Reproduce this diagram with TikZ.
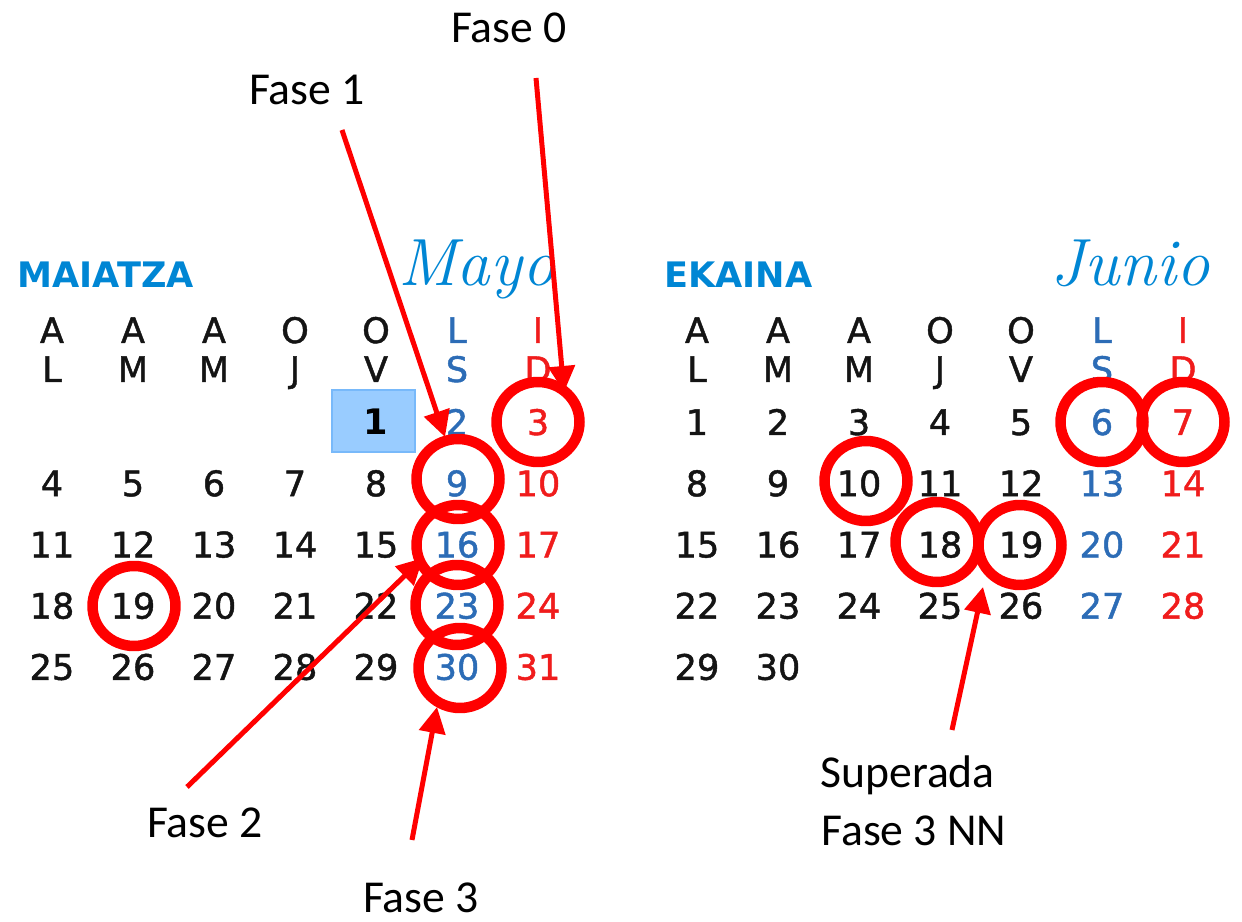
\documentclass[tikz,border=0pt]{standalone}
\usepackage{fontspec}
\setmainfont{Carlito}
\newfontfamily\calfont{DejaVu Sans}
\newfontfamily\calmed{DejaVu Sans}[FakeBold=1.3]
\newfontfamily\mytitlefont{Latin Modern Roman}
\usetikzlibrary{arrows.meta,shapes.geometric}
\definecolor{titleblue}{RGB}{0,134,212}
\definecolor{wkblue}{RGB}{44,108,182}
\definecolor{wkred}{RGB}{240,28,28}
\definecolor{hlred}{RGB}{255,0,0}
\definecolor{boxblue}{RGB}{153,204,255}
\definecolor{boxedge}{RGB}{120,185,250}
\definecolor{daytext}{RGB}{20,20,20}
\begin{document}
\begin{tikzpicture}[x=0.02cm,y=-0.02cm,
  lbl/.style={font=\fontsize{26}{31}\selectfont, inner sep=0, anchor=base},
  day/.style={font=\calmed\fontsize{20}{22}\selectfont, inner sep=0, anchor=base},
  monthname/.style={font=\calfont\bfseries\fontsize{20}{26}\selectfont, text=titleblue, inner sep=0, anchor=base west},
  scripttitle/.style={font=\mytitlefont\itshape\fontsize{38}{42}\selectfont, text=titleblue, inner sep=0, anchor=base west},
  ring/.style={ellipse, draw=hlred, line width=0.21cm, minimum width=1.66cm, minimum height=1.6cm, inner sep=0},
  arr/.style={draw=hlred, line width=0.1cm, -{Triangle[length=0.52cm,width=0.52cm]}}]
\useasboundingbox (0,0) rectangle (1242,922);

% month titles
\node[monthname] (maiatza) at (17,288) {MAIATZA};
\node[scripttitle] (mayo) at (398,286) {Mayo};
\node[monthname] (ekaina) at (664,288) {EKAINA};
\node[scripttitle] (junio) at (1050,286) {Junio};

% highlighted day box
\node[draw=boxedge, fill=boxblue, line width=0.04cm, minimum width=1.66cm, minimum height=1.24cm, inner sep=0] (todaybox) at (373.5,421) {};

% weekday headers
\foreach \t/\c [count=\i from 0] in {A/daytext,A/daytext,A/daytext,O/daytext,O/daytext,L/wkblue,I/wkred}{
  \node[day, text=\c] (mh1-\i) at ({52+81*\i},343) {\t};
  \node[day, text=\c] (jh1-\i) at ({697+81*\i},343) {\t};
}
\foreach \t/\c [count=\i from 0] in {L/daytext,M/daytext,M/daytext,J/daytext,V/daytext,S/wkblue,D/wkred}{
  \node[day, text=\c] (mh2-\i) at ({52+81*\i},382) {\t};
  \node[day, text=\c] (jh2-\i) at ({697+81*\i},382) {\t};
}

% May days
\node[day, font=\calfont\bfseries\fontsize{20}{22}\selectfont, text=black] (may1) at (376,435) {1};
\foreach \d in {2,...,31}{
  \pgfmathtruncatemacro\c{mod(\d+3,7)}
  \pgfmathtruncatemacro\r{div(\d+3,7)}
  \ifnum\c=5 \def\col{wkblue}\else\ifnum\c=6 \def\col{wkred}\else\def\col{daytext}\fi\fi
  \node[day, text=\col] (may\d) at ({52+81*\c},{435+61.2*\r}) {\d};
}
% June days
\foreach \d in {1,...,30}{
  \pgfmathtruncatemacro\c{mod(\d-1,7)}
  \pgfmathtruncatemacro\r{div(\d-1,7)}
  \ifnum\c=5 \def\col{wkblue}\else\ifnum\c=6 \def\col{wkred}\else\def\col{daytext}\fi\fi
  \node[day, text=\col] (jun\d) at ({697+81*\c},{435+61.2*\r}) {\d};
}

% rings
\node[ring] (rm3) at (538,422) {};
\node[ring] (rm9) at (458,479) {};
\node[ring] (rm16) at (458,545) {};
\node[ring] (rm23) at (457,605) {};
\node[ring] (rm30) at (460,668) {};
\node[ring] (rm19) at (134,606) {};
\node[ring] (rj6) at (1102,422) {};
\node[ring] (rj7) at (1183,422) {};
\node[ring] (rj10) at (866,481) {};
\node[ring] (rj18) at (937,542) {};
\node[ring] (rj19) at (1020,545) {};

% labels
\node[lbl] (f0) at (509,43) {Fase 0};
\node[lbl] (f1) at (307,105) {Fase 1};
\node[lbl] (f2) at (205,837) {Fase 2};
\node[lbl] (f3) at (421,912) {Fase 3};
\node[lbl, anchor=base west] (sup1) at (820,787) {Superada};
\node[lbl, anchor=base west] (sup2) at (821,845) {Fase 3 NN};

% arrow endpoints
\coordinate (a0s) at (536,78);   \coordinate (a0e) at (564,392);
\coordinate (a1s) at (342,130);  \coordinate (a1e) at (445,437);
\coordinate (a2s) at (187,787);  \coordinate (a2e) at (423,558);
\coordinate (a3s) at (412,840);  \coordinate (a3e) at (437,707);
\coordinate (a4s) at (952,730);  \coordinate (a4e) at (983,587);

\draw[arr] (a0s) -- (a0e);
\draw[arr] (a1s) -- (a1e);
\draw[arr] (a2s) -- (a2e);
\draw[arr] (a3s) -- (a3e);
\draw[arr] (a4s) -- (a4e);
\end{tikzpicture}
\end{document}
